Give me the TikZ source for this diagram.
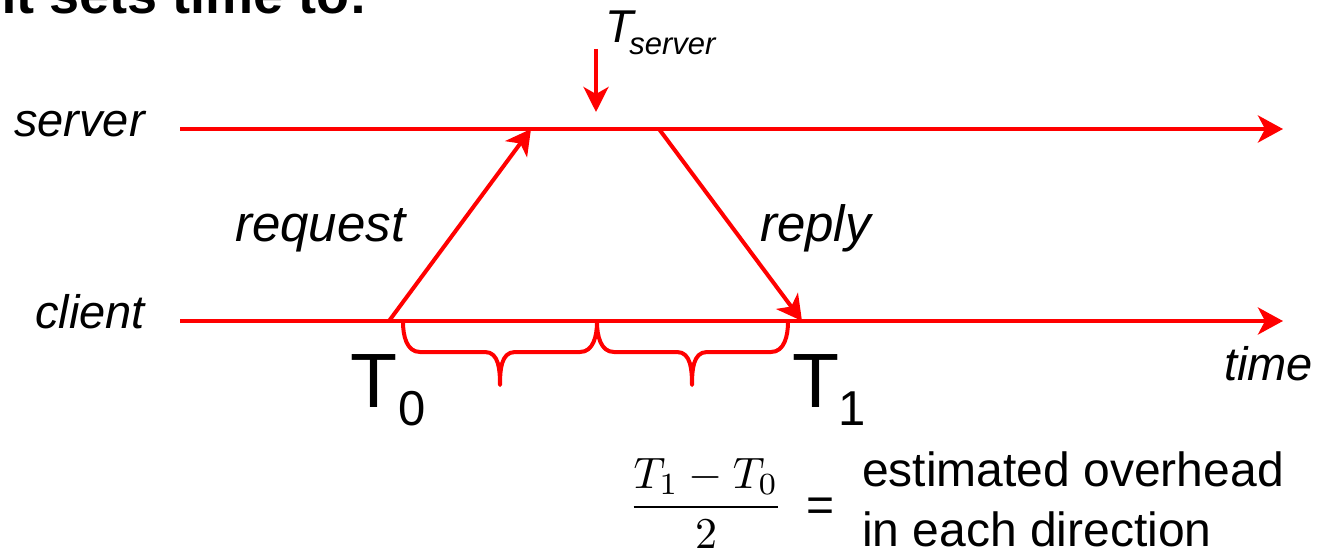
\documentclass[tikz,border=0pt]{standalone}
\usepackage{fontspec}
\setmainfont{Liberation Sans}
\usepackage{graphicx}
\usetikzlibrary{arrows.meta}
\begin{document}
\begin{tikzpicture}[x=1pt,y=-1pt,
  line/.style={draw=red, line width=4pt},
  arr/.style={line, -{Stealth[length=25pt,width=27pt,inset=7pt]}},
  bracepath/.style={draw=red, line width=4pt, line cap=round, line join=round},
  lbl/.style={inner sep=0pt, anchor=base west, font=\fontsize{47}{56}\selectfont\itshape},
  biglbl/.style={lbl, font=\fontsize{51}{60}\selectfont\itshape},
  txt/.style={inner sep=0pt, anchor=base west, font=\fontsize{48}{56}\selectfont},
  bigT/.style={inner sep=0pt, anchor=base west, font=\fontsize{77}{80}\selectfont},
]
\useasboundingbox (0,0) rectangle (1318,556);

% cut-off heading at the top
\node[inner sep=0pt, anchor=base east, font=\fontsize{54}{64}\selectfont\bfseries] (head) at (368,14) {Client sets time to:};

% time lines
\coordinate (sL) at (180,129);
\coordinate (sR) at (1283,129);
\coordinate (cL) at (180,321);
\coordinate (cR) at (1283,321);
\draw[arr] (sL) -- (sR);
\draw[arr] (cL) -- (cR);

% messages
\coordinate (req0) at (389,321);
\coordinate (req1) at (531,129);
\coordinate (rep0) at (659,129);
\coordinate (rep1) at (802,321);
\draw[arr] (req0) -- (req1);
\draw[arr] (rep0) -- (rep1);

% T_server marker
\coordinate (ts0) at (596,49);
\coordinate (ts1) at (596,112);
\draw[arr, -{Stealth[length=25pt,width=25pt,inset=7pt]}] (ts0) -- (ts1);
\node[inner sep=0pt, anchor=base west, font=\fontsize{46}{52}\selectfont\itshape] (tserver) at (605,43)
  {T\kern-4pt\raisebox{-12pt}{\fontsize{31}{36}\selectfont server}};

% labels
\node[lbl] (server) at (14,137) {server};
\node[lbl] (client) at (35,328) {client};
\node[biglbl] (request) at (235,242) {request};
\node[biglbl] (reply) at (760,242) {reply};
\node[lbl] (time) at (1224,380) {time};

% T0 and T1
\node[bigT] (T0) at (350,407) {T\kern1pt\raisebox{-18pt}{\fontsize{49}{52}\selectfont 0}};
\node[bigT] (T1) at (792,407) {T\kern-1pt\raisebox{-18pt}{\fontsize{49}{52}\selectfont 1}};

% braces
\coordinate (b0) at (403,322);
\coordinate (bm) at (597,322);
\coordinate (b1) at (788,322);
\path[bracepath] (b0) to[out=-90,in=180] (420,352) -- (485,352)
  to[out=0,in=90] (500,385) to[out=90,in=180] (515,352) -- (580,352)
  to[out=0,in=-90] (bm);
\path[bracepath] (bm) to[out=-90,in=180] (614,352) -- (677,352)
  to[out=0,in=90] (692,385) to[out=90,in=180] (707,352) -- (771,352)
  to[out=0,in=-90] (b1);

% formula
\node[inner sep=0pt] (frac) at (706,503) {\scalebox{4.4}{$\displaystyle\frac{T_1-T_0}{2}$}};
\node[txt] (eq) at (806,521) {=};
\node[txt] (est1) at (862,486) {estimated overhead};
\node[txt] (est2) at (862,546) {in each direction};
\end{tikzpicture}
\end{document}
